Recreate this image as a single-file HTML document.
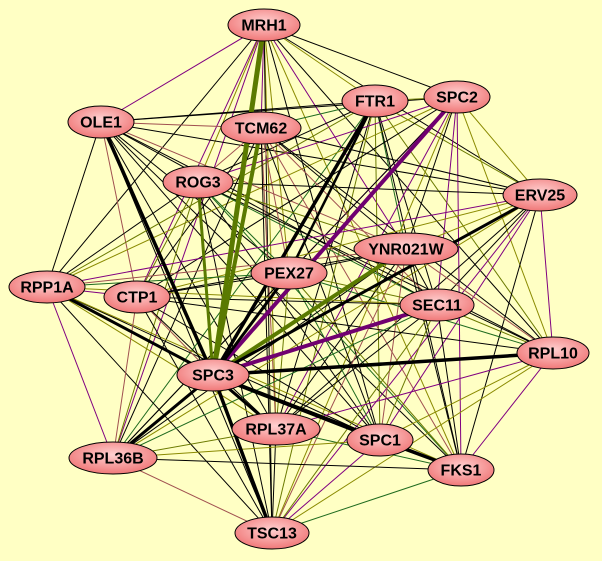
<!DOCTYPE html>
<html><head><meta charset="utf-8"><style>
html,body{margin:0;padding:0;background:#ffffc4;}
svg{display:block}
text{font-family:"Liberation Sans",sans-serif;font-weight:bold;font-size:16px;fill:#000;text-anchor:middle;dominant-baseline:central}
</style></head><body>
<svg id="g" width="602" height="561" xmlns="http://www.w3.org/2000/svg">
<defs><radialGradient id="ng" cx="50%" cy="40%" r="60%"><stop offset="0" stop-color="#ffd0d0"/><stop offset="1" stop-color="#f07878"/></radialGradient></defs>
<rect width="602" height="561" fill="#ffffc4"/>
<g id="edges"></g><g id="nodes"></g>
</svg>
<script>
var N={MRH1:[264,25,36],OLE1:[101,122,33],FTR1:[375,101,33],SPC2:[457,97,33],TCM62:[261,128,40],ROG3:[198,182,35],ERV25:[540,195,37],YNR021W:[406,249,52],PEX27:[289,273,38],RPP1A:[47,287,38],CTP1:[137,297,33],SEC11:[437,305,37],RPL10:[553,353,36],SPC3:[213,375,36],RPL37A:[276,429,44],SPC1:[380,440,33],RPL36B:[113,458,44],FKS1:[461,470,33],TSC13:[272,533,37]};
var k=Object.keys(N),E=document.getElementById('edges'),ns="http://www.w3.org/2000/svg";
function L(a,b,c,w){var l=document.createElementNS(ns,'line');l.setAttribute('x1',N[a][0]);l.setAttribute('y1',N[a][1]);l.setAttribute('x2',N[b][0]);l.setAttribute('y2',N[b][1]);l.setAttribute('stroke',c);l.setAttribute('stroke-width',w);E.appendChild(l);}
var cols=['#000','#6b7a00','#000','#800080','#1f6b1f','#000','#8a8a00','#000','#a05050'];
var n=0;
for(var i=0;i<k.length;i++)for(var j=i+1;j<k.length;j++){n++;if((i*7+j*3)%11==0)continue;L(k[i],k[j],cols[(i*5+j*3)%cols.length],1);}
var T=[['SPC3','MRH1','#5a7a00',5],['SPC3','TCM62','#5a7a00',4],['SPC3','SPC2','#700070',4],['SPC3','YNR021W','#5a7a00',4],['SPC3','SEC11','#700070',4],['SPC3','RPL10','#000',3.5],['SPC3','SPC1','#000',4],['SPC3','TSC13','#000',3.5],['SPC3','OLE1','#000',3.5],['SPC3','FTR1','#000',3.5],['SPC3','FKS1','#000',3],['SPC3','RPP1A','#000',3],['SPC3','RPL36B','#000',3],['SPC3','ERV25','#000',3],['SPC3','PEX27','#000',3],['SPC3','ROG3','#5a7a00',3],['SPC1','FKS1','#000',3],['SPC3','RPL37A','#000',3],['PEX27','FTR1','#000',2.5]];
T.forEach(function(t){L(t[0],t[1],t[2],t[3]);});
var G=document.getElementById('nodes');
k.forEach(function(a){var p=N[a];var e=document.createElementNS(ns,'ellipse');e.setAttribute('cx',p[0]);e.setAttribute('cy',p[1]);e.setAttribute('rx',p[2]);e.setAttribute('ry',16);e.setAttribute('fill','url(#ng)');e.setAttribute('stroke','#000');e.setAttribute('stroke-width','1');G.appendChild(e);
var t=document.createElementNS(ns,'text');t.setAttribute('x',p[0]);t.setAttribute('y',p[1]+1);t.textContent=a;G.appendChild(t);});
</script>
</body></html>
